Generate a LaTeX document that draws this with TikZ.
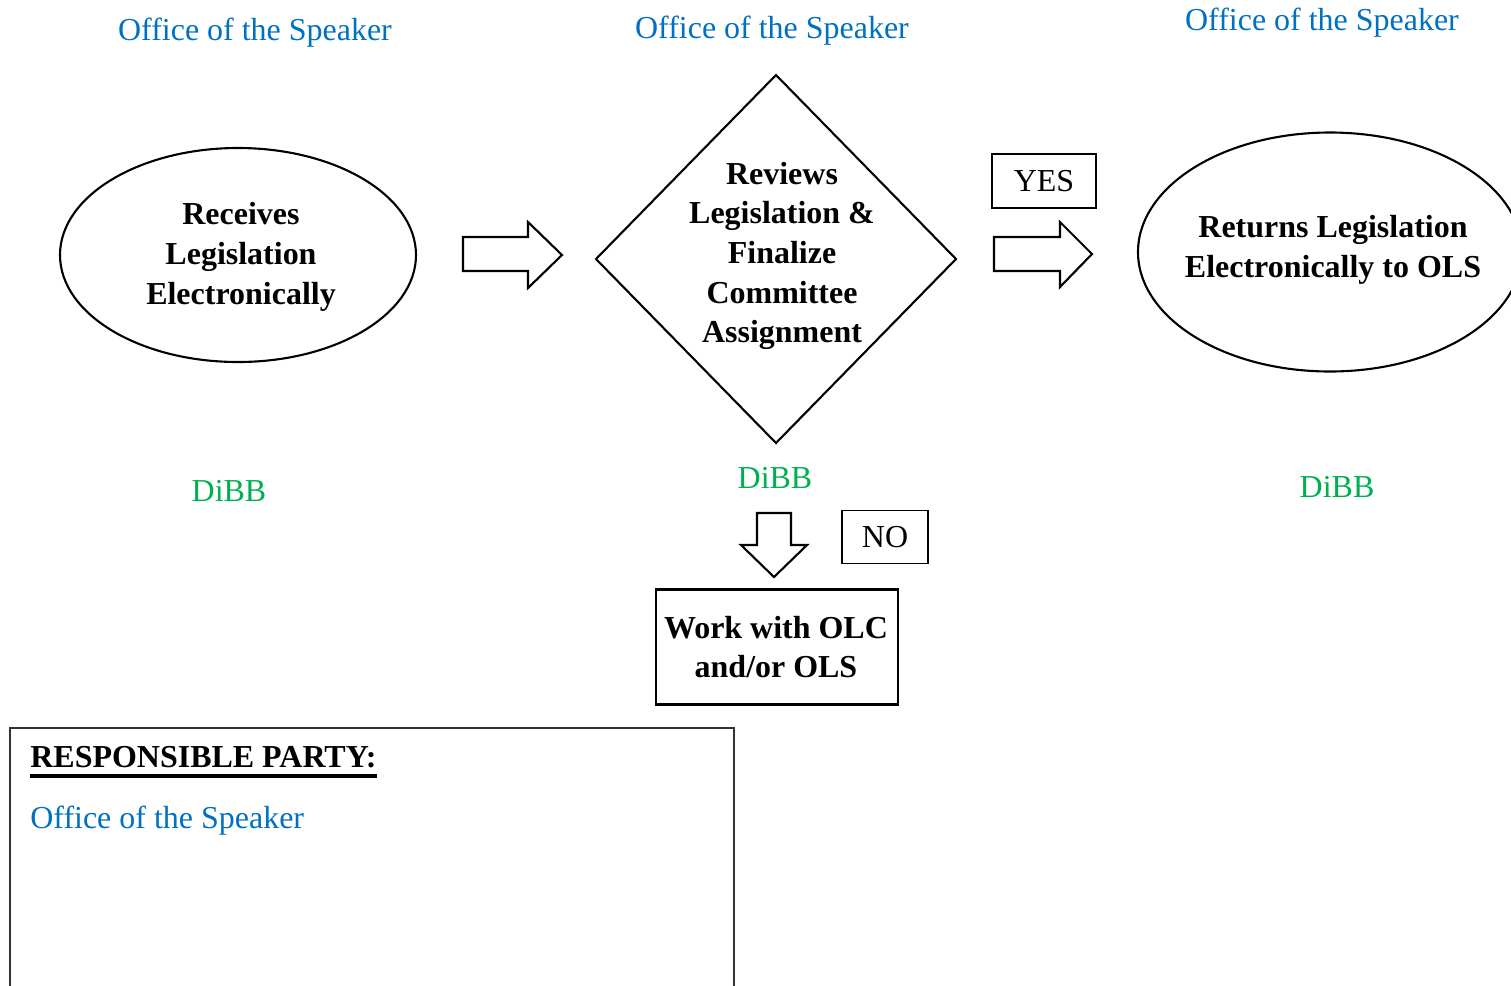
\documentclass[tikz,border=0pt]{standalone}
\usepackage{fontspec}
\setmainfont{Liberation Serif}
\usetikzlibrary{shapes.geometric}
\definecolor{spkblue}{HTML}{0070C0}
\definecolor{dibbgreen}{HTML}{00B050}
\begin{document}
\begin{tikzpicture}[x=0.02cm,y=-0.02cm,
  txt/.style={font=\fontsize{18.2}{22.6}\selectfont, inner sep=0pt, align=center},
  office/.style={txt, text=spkblue},
  dibb/.style={txt, text=dibbgreen},
  bold/.style={txt, font=\fontsize{18.2}{22.6}\selectfont\bfseries},
  oval/.style={ellipse, draw, line width=1.2pt, inner sep=0pt},
  blockarrow/.style={draw, line width=1.2pt, line join=miter},
  labelbox/.style={draw, line width=0.6pt, inner sep=0pt, font=\fontsize{18.2}{22.6}\selectfont},
]
\useasboundingbox (0,0) rectangle (1511,985);

% Office labels
\node[office] (o1) at (255,33) {Office of the Speaker};
\node[office] (o2) at (772,31) {Office of the Speaker};
\node[office] (o3) at (1322,23) {Office of the Speaker};

% Left ellipse
\node[oval, minimum width=356*0.02cm, minimum height=214*0.02cm] (e1) at (238,255) {};
\node[bold] (t1) at (241,257) {Receives\\Legislation\\Electronically};

% Arrow 1
\draw[blockarrow] (463,237) -- (528,237) -- (528,222) -- (562,255) -- (528,288) -- (528,271) -- (463,271) -- cycle;

% Diamond
\coordinate (dc) at (776,259);
\draw[line width=1.2pt, line join=miter] (776,75) -- (956,259) -- (776,443) -- (596,259) -- cycle;
\node[bold] (t2) at (782,256) {Reviews\\Legislation \&\\Finalize\\Committee\\Assignment};

% YES box
\node[labelbox, minimum width=104*0.02cm, minimum height=54*0.02cm] (yes) at (1044,181) {\raisebox{-1.5pt}{YES}};

% Arrow 2
\draw[blockarrow] (994,237) -- (1060,237) -- (1060,222) -- (1092,254) -- (1060,287) -- (1060,271) -- (994,271) -- cycle;

% Right ellipse
\node[oval, minimum width=384*0.02cm, minimum height=239*0.02cm] (e3) at (1330,252) {};
\node[bold] (t3) at (1333,249.5) {Returns Legislation\\Electronically to OLS};

% DiBB labels
\node[dibb] (d1) at (229,491) {DiBB};
\node[dibb] (d2) at (775,478) {DiBB};
\node[dibb] (d3) at (1337,487) {DiBB};

% Down arrow
\draw[blockarrow] (757,513) -- (791,513) -- (791,545) -- (807,545) -- (774,577) -- (741,545) -- (757,545) -- cycle;

% NO box
\node[labelbox, minimum width=86*0.02cm, minimum height=53*0.02cm] (no) at (885,537) {\raisebox{-1.5pt}{NO}};

% Work box
\node[draw, line width=1.4pt, minimum width=242*0.02cm, minimum height=115*0.02cm, inner sep=0pt] (work) at (777,647) {};
\node[bold] (t4) at (776,647) {Work with OLC\\and/or OLS};

% Responsible party box
\draw[line width=0.7pt, black!80] (10,1000) -- (10,728) -- (734,728) -- (734,1000);
\node[bold, anchor=base west] (rp) at (30,767) {RESPONSIBLE PARTY:};
\draw[line width=2pt] ([yshift=-5pt]rp.base west) -- ([yshift=-5pt]rp.base east);
\node[office, anchor=west] (o4) at (30,821) {Office of the Speaker};
\end{tikzpicture}
\end{document}
